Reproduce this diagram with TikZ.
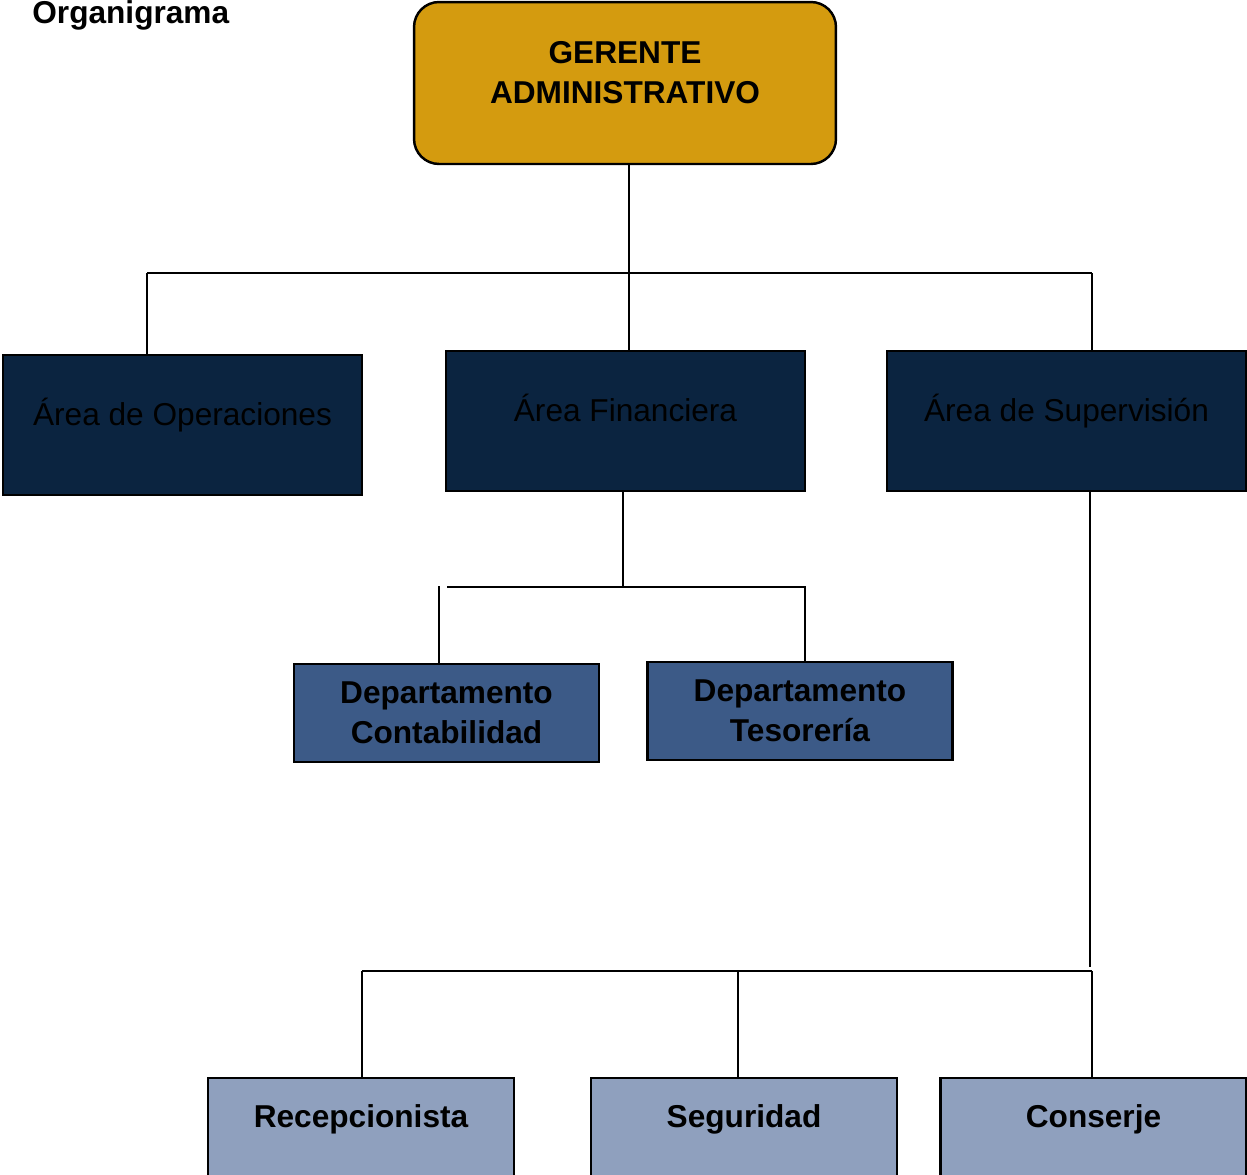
\documentclass[tikz,border=0pt]{standalone}
\usepackage{fontspec}
\setmainfont{Liberation Sans}

\definecolor{gold}{RGB}{212,155,15}
\definecolor{navy}{RGB}{11,36,64}
\definecolor{deptblue}{RGB}{60,90,135}
\definecolor{staffblue}{RGB}{143,160,190}

\newcommand\orgfont{\fontsize{18}{22.5}\selectfont}

\tikzset{
  box/.style={draw=black, line width=1.4pt, inner sep=0pt},
  head/.style={box, fill=gold, rounded corners=0.5cm, minimum width=8.44cm,
    minimum height=3.24cm, align=center, font=\orgfont\bfseries,
    text height=1.4cm, text depth=0.6cm},
  area/.style={box, fill=navy, minimum width=7.18cm, minimum height=2.8cm,
    text height=0.5cm, text depth=0.5cm, font=\orgfont},
  dept/.style={box, fill=deptblue, minimum width=6.1cm, minimum height=1.96cm,
    align=center, font=\orgfont\bfseries},
  staff/.style={box, fill=staffblue, minimum width=6.12cm, minimum height=3.92cm,
    text height=0.5cm, text depth=2.46cm, font=\orgfont\bfseries},
  link/.style={line width=1.1pt}
}

\begin{document}
\begin{tikzpicture}[x=0.02cm, y=-0.02cm]
      \clip (0,0) rectangle (1247,1174);

      \node[anchor=base west, inner sep=0pt, font=\orgfont\bfseries] (title) at (32,23) {Organigrama};

      \node[head] (ger) at (625,83) {GERENTE\\ADMINISTRATIVO};

      \node[area] (ope) at (182.5,425) {Área de Operaciones};
      \node[area] (fin) at (625.5,421) {Área Financiera};
      \node[area] (sup) at (1066.5,421) {Área de Supervisión};

      \node[dept] (con) at (446.5,713) {Departamento\\Contabilidad};
      \node[dept] (tes) at (800,711) {Departamento\\Tesorería};

      \node[staff] (rec) at (361,1176) {Recepcionista};
      \node[staff] (seg) at (744,1176) {Seguridad};
      \node[staff] (cons) at (1093.5,1176) {Conserje};

      % gerente -> areas
      \coordinate (b1) at (629,273);
      \coordinate (o1) at (147,273);
      \coordinate (s1) at (1092,273);
      \draw[link] (b1 |- ger.south) -- (b1);
      \draw[link] (o1) -- (s1);
      \foreach \c/\n in {o1/ope, b1/fin, s1/sup}
        \draw[link] (\c) -- (\c |- \n.north);

      % financiera -> departamentos
      \coordinate (f1) at (623,587);
      \coordinate (f2) at (447,587);
      \coordinate (f3) at (805,587);
      \coordinate (f4) at (439,586);
      \draw[link] (f1 |- fin.south) -- (f1);
      \draw[link] (f2) -- (f3) -- (f3 |- tes.north);
      \draw[link] (f4) -- (f4 |- con.north);

      % supervision -> personal
      \coordinate (s2) at (1090,967);
      \coordinate (r1) at (362,971);
      \coordinate (r2) at (738,971);
      \coordinate (r3) at (1092,971);
      \draw[link] (s2 |- sup.south) -- (s2);
      \draw[link, line width=1.4pt] (r1) -- (r3);
      \foreach \c/\n in {r1/rec, r2/seg, r3/cons}
        \draw[link] (\c) -- (\c |- \n.north);
\end{tikzpicture}
\end{document}
